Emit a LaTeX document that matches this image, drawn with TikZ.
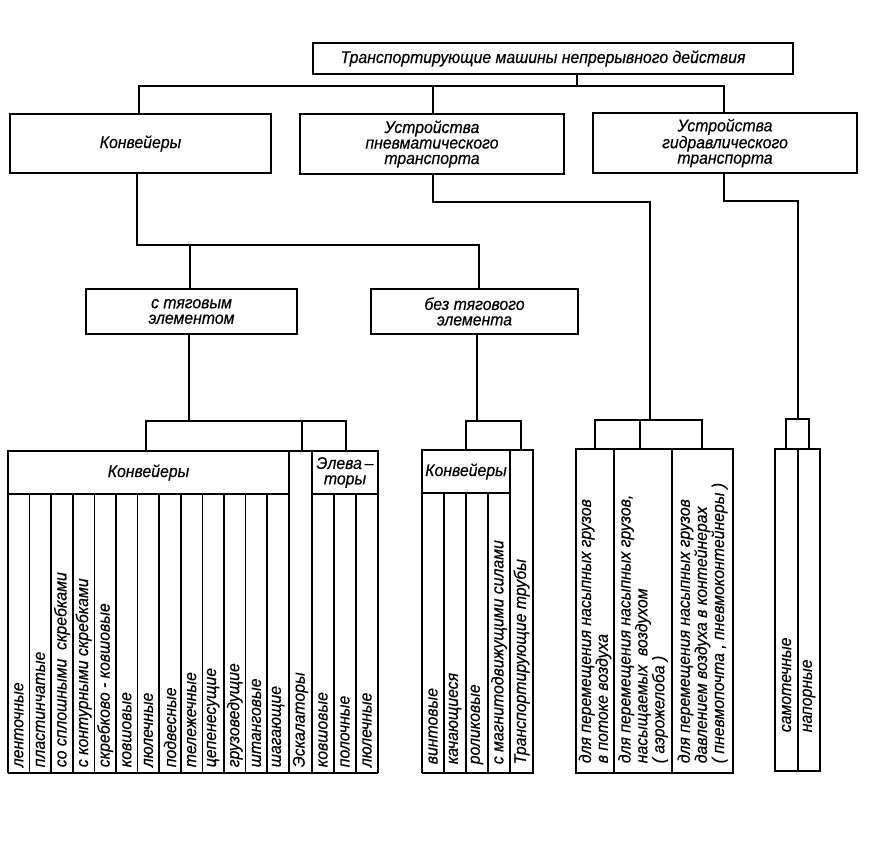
\documentclass[tikz,border=0pt]{standalone}
\usepackage{fontspec}
\setmainfont{Liberation Sans}[FakeStretch=0.93,FakeBold=0.4]
\newcommand{\lbl}{\itshape\fontsize{17}{15.5}\selectfont}
\begin{document}
\begin{tikzpicture}[x=1pt,y=-1pt,line width=1.6pt,
  box/.style={draw,rectangle,inner sep=0pt,align=center,font=\lbl},
  coltext/.style={rotate=90,anchor=west,inner sep=0pt,align=left,font=\lbl}]
\fill[white] (0,0) rectangle (869,854);
\useasboundingbox (0,0) rectangle (869,854);

% upper levels
\node[box,minimum width=480pt,minimum height=31pt] (top) at (553,58.5) {Транспортирующие машины непрерывного действия\hspace*{20pt}};
\node[box,minimum width=261pt,minimum height=59pt] (k1) at (140.5,143.5) {Конвейеры};
\node[box,minimum width=264pt,minimum height=60pt] (pn) at (432,144) {Устройства\\пневматического\\транспорта};
\node[box,minimum width=264pt,minimum height=60pt] (gd) at (725,143) {Устройства\\гидравлического\\транспорта};
\node[box,minimum width=211pt,minimum height=45pt] (st) at (191.5,311.5) {с тяговым\\элементом};
\node[box,minimum width=207pt,minimum height=45pt] (bt) at (474.5,311.5) {без тягового\\элемента};

% connectors
\draw (top.south -| 577,0) -- (577,86);
\draw (k1.north -| 139,0) -- (139,86) -- (724,86) -- (gd.north -| 724,0);
\draw (pn.north -| 433,0) -- (433,86);
\draw (k1.south -| 137,0) -- (137,245) -- (479,245) -- (bt.north -| 479,0);
\draw (190,245) -- (st.north -| 190,0);

% group 1: conveyors with traction element
\node[box,minimum width=281pt,minimum height=43pt] (kh) at (148.5,472.5) {Конвейеры};
\node[box,minimum width=23pt,minimum height=322pt] (esc) at (300.5,612) {};
\node[box,minimum width=66pt,minimum height=43pt] (el) at (345,472.5) {Элева\,–\\торы};
\foreach \i in {0,...,13} \draw ({8+21.6*\i},494) -- ({8+21.6*\i},773);
\foreach \x in {312,334,356,378} \draw (\x,494) -- (\x,773);
\draw (8,773) -- (378,773);
\foreach \t [count=\i from 0] in {ленточные,пластинчатые,со сплошными \ скребками,с контурными скребками,скребково - ковшовые,ковшовые,люлечные,подвесные,тележечные,цепенесущие,грузоведущие,штанговые,шагающие}
  \node[coltext] (c\i) at ({8+21.6*(\i+0.5)},768) {\t};
\node[coltext] (e0) at (300.5,768) {Эскалаторы};
\node[coltext] (e1) at (323,768) {ковшовые};
\node[coltext] (e2) at (345,768) {полочные};
\node[coltext] (e3) at (367,768) {люлечные};
\draw (st.south -| 189,0) -- (189,421);
\draw (kh.north -| 146,0) -- (146,421) -- (346,421) -- (el.north -| 346,0);
\draw (302,421) -- (esc.north -| 302,0);

% group 2: conveyors without traction element
\node[box,minimum width=88pt,minimum height=43pt] (kh2) at (466,471.5) {Конвейеры};
\node[box,minimum width=23pt,minimum height=323pt] (tr) at (521.5,611.5) {};
\foreach \x in {422,444,466,488} \draw (\x,493) -- (\x,773);
\draw (422,773) -- (533,773);
\node[coltext] (m0) at (433,765) {винтовые};
\node[coltext] (m1) at (455,765) {качающиеся};
\node[coltext] (m2) at (477,765) {роликовые};
\node[coltext] (m3) at (499,765) {с магнитодвижущими силами};
\node[coltext] (m4) at (521.5,765) {Транспортирующие трубы};
\draw (bt.south -| 477,0) -- (477,421);
\draw (kh2.north -| 466,0) -- (466,421) -- (521,421) -- (tr.north -| 521,0);

% group 3: pneumatic
\node[box,minimum width=157pt,minimum height=324pt] (pt) at (654.5,611) {};
\draw (614,449) -- (614,773);
\draw (672,449) -- (672,773);
\node[coltext] (p1) at (595,764) {для перемещения насыпных грузов\\в потоке воздуха};
\node[coltext] (p2) at (643,764) {для перемещения насыпных грузов,\\насыщаемых \ воздухом\\( аэрожелоба )};
\node[coltext] (p3) at (702.5,764) {для перемещения насыпных грузов\\давлением воздуха в контейнерах\\( пневмопочта , пневмоконтейнеры )};
\draw (pn.south -| 433,0) -- (433,202) -- (650,202) -- (650,420);
\draw (pt.north -| 595,0) -- (595,420) -- (702,420) -- (pt.north -| 702,0);
\draw (640,420) -- (pt.north -| 640,0);

% group 4: hydraulic
\node[box,minimum width=45pt,minimum height=322pt] (ht) at (797.5,610) {};
\draw (798,449) -- (798,771);
\node[coltext] (h1) at (786.5,733) {самотечные};
\node[coltext] (h2) at (809,733) {напорные};
\draw (gd.south -| 724,0) -- (724,201) -- (798,201) -- (798,419);
\draw (ht.north -| 786,0) -- (786,419) -- (809,419) -- (ht.north -| 809,0);
\end{tikzpicture}
\end{document}
